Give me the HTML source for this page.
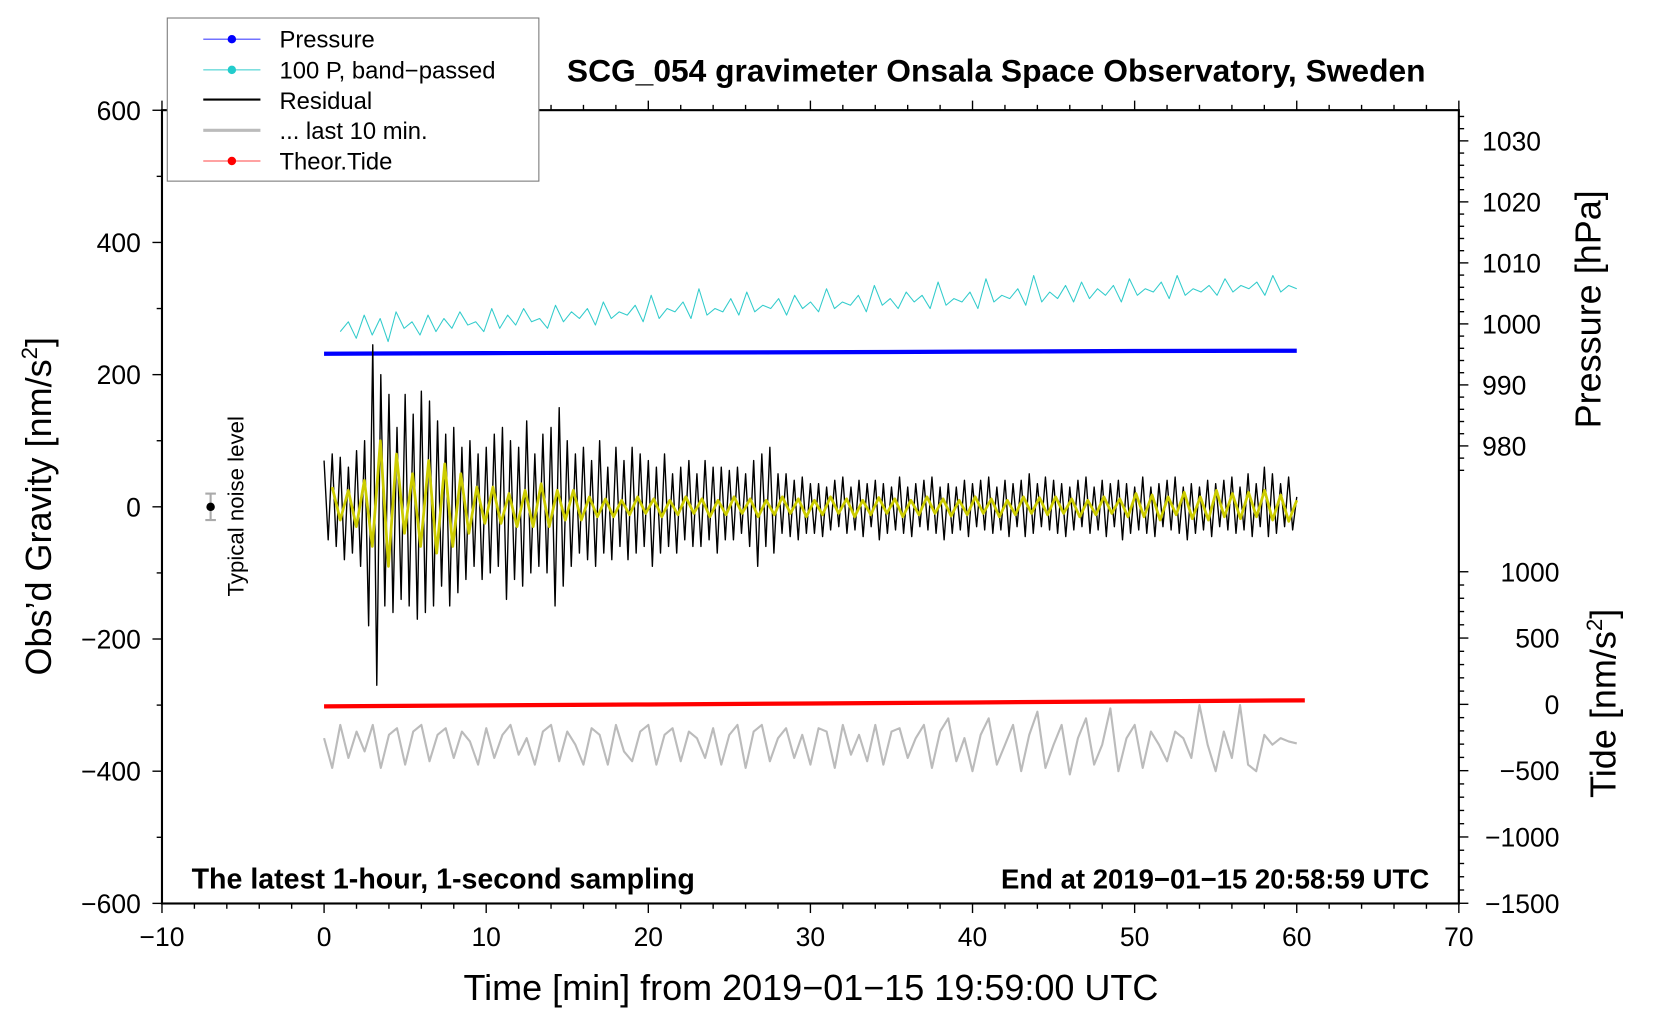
<!DOCTYPE html>
<html><head><meta charset="utf-8"><style>html,body{margin:0;padding:0;background:#fff}svg{display:block}</style></head>
<body>
<svg id="chart" xmlns="http://www.w3.org/2000/svg" width="1660" height="1020" viewBox="0 0 1568 963" preserveAspectRatio="none" font-family="Liberation Sans, sans-serif">
<rect width="1568" height="963" fill="#fff"/>
<g id="marks"></g>
<g id="axes"></g>
</svg>
<script>
const xTicks=[-10,0,10,20,30,40,50,60,70];
const yTicks=[-600,-400,-200,0,200,400,600];
const pTicks=[980,990,1000,1010,1020,1030];
const tideTicks=[-1500,-1000,-500,0,500,1000];
const residual=[70,-50,80,-60,75,-80,60,-70,85,-90,100,
-180,245,-270,200,-150,170,
-160,120,-140,170,-150,140,-170,175,-160,160,-150,130,-120,110,-150,120,
-130,90,-110,100,-90,80,-110,90,
-100,110,-90,120,-140,100,-110,90,-120,130,-100,80,-90,110,-100,120,-150,150,-120,100,-90,80,-70,90,
-80,70,-90,100,-70,60,-80,90,-60,70,-80,90,-70,80,-60,70,-90,60,-70,80,-60,50,-70,60,-50,70,-60,50,-60,70,-50,60,-70,60,-50,55,
-50,60,-40,50,-60,70,-90,80,-60,90,-70,50,-40,50,-45,40,-50,45,-40,35,
-40,35,-45,30,-35,40,-30,45,-40,30,-35,40,-45,35,-30,40,-50,35,-40,30,
-35,45,-40,30,-45,35,-30,40,-35,45,-40,30,-50,35,-40,30,-35,40,-45,35,
-30,40,-35,45,-40,30,-35,40,-45,35,-30,40,-45,50,-40,35,-30,45,-35,40,
-40,35,-45,30,-35,40,-30,45,-40,30,-35,40,-45,35,-30,40,-50,35,-40,30,
-35,45,-40,30,-45,35,-30,40,-35,45,-40,30,-50,35,-40,30,-35,40,-45,35,
-30,40,-35,45,-40,30,-35,50,-45,35,-30,60,-45,50,-40,35,-30,45,-35,15];
const filtered=[30,-20,25,-30,40,-60,100,-90,80,-40,50,-60,70,-70,65,-60,50,-40,
30,-25,30,-25,20,-30,25,-30,35,-30,25,-20,25,-20,15,
-15,12,-15,10,-12,15,-10,12,-15,10,-12,15,-10,12,-15,10,-12,15,-10,12,-15,10,-12,15,-10,12,-15,10,
-12,15,-10,12,-15,10,-12,14,-10,12,-15,10,-12,15,-10,12,-14,10,-12,15,
-10,12,-15,10,-12,15,-10,14,-12,15,-10,12,-15,10,-12,15,-10,12,-15,20,
-15,18,-20,15,-12,22,-18,15,-20,25,-15,20,-18,22,-15,25,-20,18,-22,10];
const bandP=[265,280,255,290,260,285,250,295,270,280,260,290,265,285,270,295,275,280,265,300,
270,290,275,300,280,285,270,305,280,295,285,300,275,310,285,295,290,305,280,320,
285,300,295,310,285,330,290,300,295,315,290,325,295,305,300,315,290,320,300,310,
295,330,300,310,305,320,295,335,305,315,300,325,310,320,300,340,305,315,310,325,
300,345,310,320,315,330,305,350,310,325,315,335,310,340,315,330,320,335,310,345,
320,330,325,340,315,350,320,330,325,335,320,345,325,335,330,340,320,350,325,335,330];
const last10=[-350,-395,-330,-380,-340,-370,-330,-395,-345,-335,-390,-340,-330,-385,-345,-335,-380,-340,-355,-390,
-335,-380,-345,-330,-375,-350,-390,-340,-330,-385,-340,-360,-390,-335,-345,-390,-330,-370,-385,-340,
-330,-390,-345,-335,-385,-340,-350,-380,-335,-390,-345,-330,-395,-340,-330,-385,-350,-335,-380,-345,
-390,-335,-340,-395,-330,-375,-345,-385,-330,-390,-340,-335,-380,-350,-330,-395,-340,-320,-385,-350,
-400,-345,-320,-390,-360,-330,-400,-345,-310,-395,-360,-330,-405,-350,-320,-390,-360,-305,-400,-350,
-330,-395,-340,-360,-385,-340,-350,-380,-300,-360,-400,-340,-380,-300,-390,-400,-345,-360,-350,-355,-358];
const pressureT=[0,10,20,30,40,50,60];
const pressure=[995.1,995.2,995.3,995.35,995.45,995.55,995.6];
const tideT=[0,10,20,30,40,50,60.5];
const tide=[-15,-8,-1,6,14,22,30];

const X=v=>153+(v+10)*15.3125;
const Y=v=>478.5-v*0.624;
const YP=v=>133+(1030-v)*5.76;
const YT=v=>665-v*0.1252;
const NS='http://www.w3.org/2000/svg';
const marks=document.getElementById('marks'),axes=document.getElementById('axes');
function mk(tag,attrs,parent){const e=document.createElementNS(NS,tag);for(const k in attrs)e.setAttribute(k,attrs[k]);parent.appendChild(e);return e;}
function line(parent,pts,stroke,w){return mk('polyline',{points:pts.map(p=>p[0].toFixed(1)+','+p[1].toFixed(1)).join(' '),fill:'none',stroke:stroke,'stroke-width':w,'stroke-linejoin':'round'},parent);}

let e;
e=line(marks,bandP.map((v,i)=>[X(1+i*59/(bandP.length-1)),Y(v)]),'#33cccc',1);


e=line(marks,pressure.map((v,i)=>[X(pressureT[i]),YP(v)]),'#0000ff',4);


e=line(marks,residual.map((v,i)=>[X(i*60/(residual.length-1)),Y(v)]),'#000',1.3);


e=line(marks,filtered.map((v,i)=>[X(0.5+i*59.5/(filtered.length-1)),Y(v)]),'#cccc00',2.6);


e=line(marks,tide.map((v,i)=>[X(tideT[i]),YT(v)]),'#ff0000',4);


e=line(marks,last10.map((v,i)=>[X(i*60/(last10.length-1)),Y(v)]),'#bbbbbb',2);



const ng=mk('g',{},marks);


mk('line',{x1:X(-7),x2:X(-7),y1:Y(20),y2:Y(-20),stroke:'#aaa','stroke-width':2},ng);
mk('line',{x1:X(-7)-5,x2:X(-7)+5,y1:Y(20),y2:Y(20),stroke:'#aaa','stroke-width':2},ng);
mk('line',{x1:X(-7)-5,x2:X(-7)+5,y1:Y(-20),y2:Y(-20),stroke:'#aaa','stroke-width':2},ng);
mk('circle',{cx:X(-7),cy:Y(0),r:4,fill:'#000'},ng);
const nt=mk('text',{x:0,y:0,transform:`translate(230,478) rotate(-90)`,'text-anchor':'middle','font-size':21},ng);
nt.textContent='Typical noise level';

const fr=mk('rect',{x:153,y:104,width:1225,height:749,fill:'none',stroke:'#000','stroke-width':2},axes);


for(let v=-10;v<=70;v+=2){const big=v%10===0;mk('line',{x1:X(v),x2:X(v),y1:853,y2:853+(big?9:5),stroke:'#000','stroke-width':1.3},axes);mk('line',{x1:X(v),x2:X(v),y1:104,y2:104-(big?9:5),stroke:'#000','stroke-width':1.3},axes);}
xTicks.forEach(v=>{const t=mk('text',{x:X(v),y:893,'text-anchor':'middle','font-size':25},axes);t.textContent=String(v).replace('-','\u2212');

});
for(let v=-600;v<=600;v+=100){mk('line',{x1:153,x2:153-(v%200===0?9:5),y1:Y(v),y2:Y(v),stroke:'#000','stroke-width':1.3},axes);}
yTicks.forEach(v=>{const t=mk('text',{x:133,y:Y(v)+9,'text-anchor':'end','font-size':25},axes);t.textContent=String(v).replace('-','\u2212');

});
for(let v=976;v<=1034;v+=2){mk('line',{x1:1378,x2:1378+(v%10===0?9:5),y1:YP(v),y2:YP(v),stroke:'#000','stroke-width':1.3},axes);}
pTicks.forEach(v=>{const t=mk('text',{x:1400,y:YP(v)+9,'font-size':25},axes);t.textContent=v;

});
for(let v=-1500;v<=1000;v+=100){mk('line',{x1:1378,x2:1378+(v%500===0?9:5),y1:YT(v),y2:YT(v),stroke:'#000','stroke-width':1.3},axes);}
tideTicks.forEach(v=>{const t=mk('text',{x:1473,y:YT(v)+9,'text-anchor':'end','font-size':25},axes);t.textContent=String(v).replace('-','\u2212');

});
</script>
<svg style="position:absolute;left:0;top:0" width="1660" height="1020" viewBox="0 0 1568 963" preserveAspectRatio="none" font-family="Liberation Sans, sans-serif">
<text x="941" y="77" text-anchor="middle" font-size="30" font-weight="bold">SCG_054 gravimeter Onsala Space Observatory, Sweden</text>
<text x="766" y="944" text-anchor="middle" font-size="34">Time [min] from 2019−01−15 19:59:00 UTC</text>
<text transform="translate(48,478) rotate(-90)" text-anchor="middle" font-size="34">Obs’d Gravity [nm/s<tspan font-size="21" dy="-13">2</tspan><tspan dy="13">]</tspan></text>
<text transform="translate(1512,292) rotate(-90)" text-anchor="middle" font-size="34">Pressure [hPa]</text>
<text transform="translate(1526,664) rotate(-90)" text-anchor="middle" font-size="34">Tide [nm/s<tspan font-size="21" dy="-13">2</tspan><tspan dy="13">]</tspan></text>
<text x="181" y="839" font-size="27" font-weight="bold">The latest 1-hour, 1-second sampling</text>
<text x="1350" y="839" text-anchor="end" font-size="26" font-weight="bold">End at 2019−01−15 20:58:59 UTC</text>
<g>
<rect x="158" y="17" width="351" height="154" fill="#fff" stroke="#777" stroke-width="1"/>
<line x1="192" x2="246" y1="37" y2="37" stroke="#4444ff"/><circle cx="219" cy="37" r="4" fill="#0000ff"/>
<text x="264" y="45" font-size="22.5">Pressure</text>
<line x1="192" x2="246" y1="66" y2="66" stroke="#33cccc"/><circle cx="219" cy="66" r="4" fill="#22cccc"/>
<text x="264" y="74" font-size="22.5">100 P, band−passed</text>
<line x1="192" x2="246" y1="94" y2="94" stroke="#000" stroke-width="2"/>
<text x="264" y="103" font-size="22.5">Residual</text>
<line x1="192" x2="246" y1="123" y2="123" stroke="#bbb" stroke-width="3"/>
<text x="264" y="131" font-size="22.5">... last 10 min.</text>
<line x1="192" x2="246" y1="152" y2="152" stroke="#ff4444"/><circle cx="219" cy="152" r="4" fill="#ff0000"/>
<text x="264" y="160" font-size="22.5">Theor.Tide</text>
</g>
</svg>
</body></html>
